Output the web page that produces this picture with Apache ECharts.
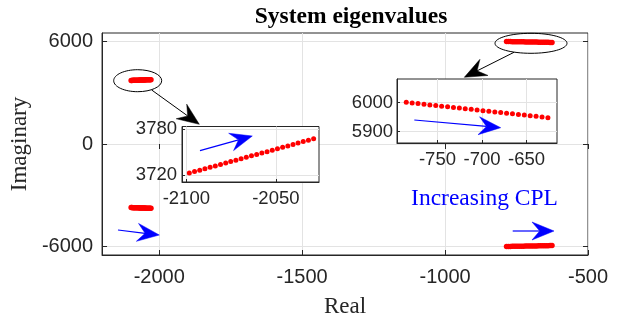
<!DOCTYPE html>
<html>
<head>
<meta charset="utf-8">
<script src="https://cdn.jsdelivr.net/npm/echarts@6/dist/echarts.min.js"></script>
<style>html,body{margin:0;padding:0;background:#fff;}#c{width:631px;height:323px;}</style>
</head>
<body>
<div id="c"></div>
<script>
// Eigenvalue cluster near -2060 + j3740 (upper half); conjugates mirrored
const leftRe = [-2098.3, -2095.4, -2092.5, -2089.6, -2086.7, -2083.8, -2080.9, -2078.0, -2075.2, -2072.3, -2069.4, -2066.5, -2063.6, -2060.7, -2057.8, -2054.9, -2052.0, -2049.1, -2046.2, -2043.3, -2040.4, -2037.6, -2034.7, -2031.8, -2028.9];
const leftIm = [3722.3, 3724.2, 3726.0, 3727.9, 3729.7, 3731.6, 3733.5, 3735.3, 3737.2, 3739.1, 3740.9, 3742.8, 3744.7, 3746.5, 3748.4, 3750.2, 3752.1, 3754.0, 3755.8, 3757.7, 3759.6, 3761.4, 3763.3, 3765.1, 3767.0];
// Eigenvalue cluster near -700 + j5975
const rightRe = [-785.0, -778.4, -771.8, -765.1, -758.5, -751.9, -745.3, -738.6, -732.0, -725.4, -718.8, -712.1, -705.5, -698.9, -692.3, -685.6, -679.0, -672.4, -665.8, -659.1, -652.5, -645.9, -639.3, -632.6, -626.0];
const rightIm = [6001.0, 5998.8, 5996.6, 5994.4, 5992.2, 5990.0, 5987.8, 5985.5, 5983.3, 5981.1, 5978.9, 5976.7, 5974.5, 5972.3, 5970.1, 5967.9, 5965.7, 5963.5, 5961.3, 5959.1, 5956.9, 5954.7, 5952.5, 5950.2, 5948.0];

const mainXTicks = [-2000, -1500, -1000, -500];
const mainYTicks = [-6000, 0, 6000];
const inset1XTicks = [-2100, -2050];
const inset1YTicks = [3720, 3780];
const inset2XTicks = [-750, -700, -650];
const inset2YTicks = [5900, 6000];

const titleText = 'System eigenvalues';
const xName = 'Real';
const yName = 'Imaginary';
const noteText = 'Increasing CPL';

const pairs = (xs, ys) => xs.map((x, i) => [x, ys[i]]);
const conj = ys => ys.map(v => -v);
const plain = v => String(v);

const AX = '#262626';
const GRIDC = '#e3e3e3';
const SANS = 'Liberation Sans';
const SERIF = 'Liberation Serif';

function mkAxis(o) {
  return Object.assign({
    type: 'value', scale: true,
    axisLine: {show: true, onZero: false, lineStyle: {color: AX, width: 1}},
    splitLine: {show: true, lineStyle: {color: GRIDC, width: 1}},
  }, o);
}

const chart = echarts.init(document.getElementById('c'), null, {renderer: 'canvas'});

const RED = {color: '#ff0000', opacity: 1};

const option = {
  animation: false,
  backgroundColor: '#fff',
  title: {
    text: titleText, left: 346, top: 0, textAlign: 'center',
    textStyle: {fontFamily: SERIF, fontWeight: 'bold', fontSize: 23.5, color: '#000'}
  },
  grid: [
    {left: 101, top: 33, width: 487, height: 224, show: true, borderColor: AX, borderWidth: 1, backgroundColor: '#fff', z: 0},
    {left: 182, top: 126.5, width: 137, height: 55.5, show: true, borderColor: AX, borderWidth: 1, backgroundColor: '#fff', z: 5},
    {left: 397, top: 79, width: 160, height: 64, show: true, borderColor: AX, borderWidth: 1, backgroundColor: '#fff', z: 5}
  ],
  xAxis: [
    mkAxis({gridIndex: 0, min: -2200, max: -500, position: 'bottom', z: 0,
      name: xName, nameLocation: 'middle', nameGap: 40,
      nameTextStyle: {fontFamily: SERIF, fontSize: 23, color: AX},
      axisTick: {show: true, inside: true, length: 5, customValues: mainXTicks, lineStyle: {color: AX}},
      axisLabel: {show: true, margin: 12, customValues: mainXTicks, formatter: plain, fontFamily: SANS, fontSize: 20, color: AX}}),
    mkAxis({gridIndex: 0, min: -2200, max: -500, position: 'top', z: 0,
      axisLine: {show: false}, splitLine: {show: false},
      axisTick: {show: true, inside: true, length: 5, customValues: mainXTicks, lineStyle: {color: AX}},
      axisLabel: {show: false}}),
    mkAxis({gridIndex: 1, min: -2102.4, max: -2025.9, z: 6,
      axisTick: {show: true, inside: true, length: 3, customValues: inset1XTicks, lineStyle: {color: AX}},
      axisLabel: {show: true, margin: 7, customValues: inset1XTicks, formatter: plain, fontFamily: SANS, fontSize: 18.5, color: AX}}),
    mkAxis({gridIndex: 2, min: -795.4, max: -615.8, z: 6,
      axisTick: {show: true, inside: true, length: 3, customValues: inset2XTicks, lineStyle: {color: AX}},
      axisLabel: {show: true, margin: 7, customValues: inset2XTicks, formatter: plain, fontFamily: SANS, fontSize: 18.5, color: AX}})
  ],
  yAxis: [
    mkAxis({gridIndex: 0, min: -6500, max: 6500, position: 'left', z: 0,
      name: yName, nameLocation: 'middle', nameGap: 66,
      nameTextStyle: {fontFamily: SERIF, fontSize: 23, color: AX},
      axisTick: {show: true, inside: true, length: 5, customValues: mainYTicks, lineStyle: {color: AX}},
      axisLabel: {show: true, margin: 9, customValues: mainYTicks, formatter: plain, fontFamily: SANS, fontSize: 20, color: AX}}),
    mkAxis({gridIndex: 0, min: -6500, max: 6500, position: 'right', z: 0,
      axisLine: {show: false}, splitLine: {show: false},
      axisTick: {show: true, inside: true, length: 5, customValues: mainYTicks, lineStyle: {color: AX}},
      axisLabel: {show: false}}),
    mkAxis({gridIndex: 1, min: 3710.6, max: 3783, z: 6,
      axisTick: {show: true, inside: true, length: 3, customValues: inset1YTicks, lineStyle: {color: AX}},
      axisLabel: {show: true, margin: 5, customValues: inset1YTicks, formatter: plain, fontFamily: SANS, fontSize: 18.5, color: AX}}),
    mkAxis({gridIndex: 2, min: 5860, max: 6082, z: 6,
      axisTick: {show: true, inside: true, length: 3, customValues: inset2YTicks, lineStyle: {color: AX}},
      axisLabel: {show: true, margin: 4, customValues: inset2YTicks, formatter: plain, fontFamily: SANS, fontSize: 18.5, color: AX}})
  ],
  series: [
    {type: 'scatter', xAxisIndex: 0, yAxisIndex: 0, data: pairs(leftRe, leftIm), symbolSize: 5.5, itemStyle: RED, z: 2},
    {type: 'scatter', xAxisIndex: 0, yAxisIndex: 0, data: pairs(leftRe, conj(leftIm)), symbolSize: 5.5, itemStyle: RED, z: 2},
    {type: 'scatter', xAxisIndex: 0, yAxisIndex: 0, data: pairs(rightRe, rightIm), symbolSize: 5.5, itemStyle: RED, z: 2},
    {type: 'scatter', xAxisIndex: 0, yAxisIndex: 0, data: pairs(rightRe, conj(rightIm)), symbolSize: 5.5, itemStyle: RED, z: 2},
    {type: 'scatter', xAxisIndex: 2, yAxisIndex: 2, data: pairs(leftRe, leftIm), symbolSize: 5, itemStyle: RED, z: 7},
    {type: 'scatter', xAxisIndex: 3, yAxisIndex: 3, data: pairs(rightRe, rightIm), symbolSize: 5, itemStyle: RED, z: 7}
  ]
};
chart.setOption(option);

// Annotation arrows (MATLAB-style 'vback2' heads), ellipses and note text
function arrow(x1, y1, x2, y2, color, lw) {
  const L = 22, W = 9, N = 0.65 * L;
  const dx = x2 - x1, dy = y2 - y1, d = Math.hypot(dx, dy);
  const ux = dx / d, uy = dy / d, nx = -uy, ny = ux;
  const bx = x2 - L * ux, by = y2 - L * uy;
  const mx = x2 - N * ux, my = y2 - N * uy;
  return [
    {type: 'line', z: 100, silent: true, shape: {x1: x1, y1: y1, x2: mx, y2: my}, style: {stroke: color, lineWidth: lw}},
    {type: 'polygon', z: 100, silent: true, shape: {points: [[x2, y2], [bx + W * nx, by + W * ny], [mx, my], [bx - W * nx, by - W * ny]]}, style: {fill: color, stroke: color, lineWidth: 0.5}}
  ];
}
const BLUE = '#0000ff';
const g = [].concat(
  arrow(151.7, 90, 199.3, 124.3, '#000', 1),
  arrow(514, 52.3, 464.3, 77.3, '#000', 1),
  arrow(200, 150.7, 252.3, 136, BLUE, 1.2),
  arrow(414.3, 120, 500.7, 127.7, BLUE, 1.2),
  arrow(118, 230, 159.3, 235, BLUE, 1.2),
  arrow(512.7, 231, 554, 231, BLUE, 1.2),
  [
    {type: 'ellipse', z: 100, silent: true, shape: {cx: 137.7, cy: 80.7, rx: 24, ry: 11}, style: {fill: 'none', stroke: '#000', lineWidth: 1}},
    {type: 'ellipse', z: 100, silent: true, shape: {cx: 531, cy: 43.3, rx: 36, ry: 10}, style: {fill: 'none', stroke: '#000', lineWidth: 1}},
    {type: 'text', z: 100, silent: true, x: 484.5, y: 199.3, style: {text: noteText, fill: BLUE, font: '23.5px "Liberation Serif"', textAlign: 'center', textVerticalAlign: 'middle'}}
  ]
);
chart.setOption({graphic: {elements: g}});
</script>
</body>
</html>
